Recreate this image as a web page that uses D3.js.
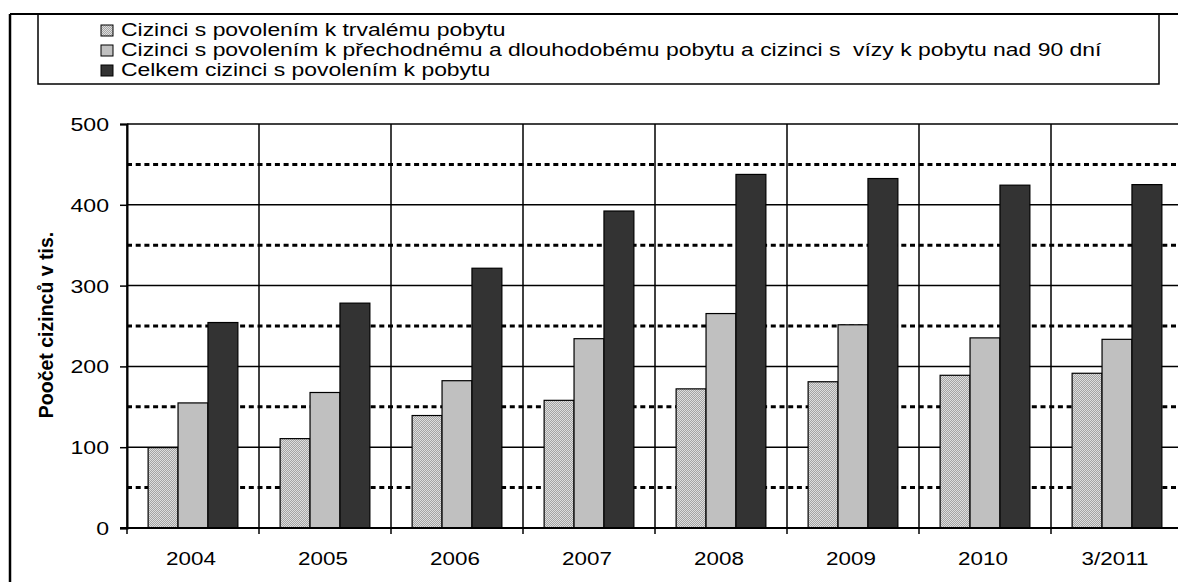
<!DOCTYPE html>
<html>
<head>
<meta charset="utf-8">
<script src="https://cdn.jsdelivr.net/npm/d3@7"></script>
<style>
  body { margin: 0; background: #fff; }
  text { font-family: Arial, "Liberation Sans", sans-serif; fill: #000; }
</style>
</head>
<body>
<svg id="chart"></svg>
<script>
// data
const categories = ['2004', '2005', '2006', '2007', '2008', '2009', '2010', '3/2011'];
const permanent = [99.5, 110.6, 139.2, 158.0, 172.2, 181.0, 189.0, 191.5];
const temporary = [154.8, 167.7, 182.3, 234.3, 265.4, 251.5, 235.3, 233.5];
const total = [254.3, 278.3, 321.5, 392.3, 437.6, 432.5, 424.3, 425.0];
const seriesNames = [
  'Cizinci s povolením k trvalému pobytu',
  'Cizinci s povolením k přechodnému a dlouhodobému pobytu a cizinci s  vízy k pobytu nad 90 dní',
  'Celkem cizinci s povolením k pobytu'
];
const yTicks = [0, 100, 200, 300, 400, 500];
const yDotted = [50, 150, 250, 350, 450];
const yTitle = 'Poočet cizinců v tis.';

let width = 1178;
let height = 582;
// the source picture is a bit wider than tall glyphs would be, so text is stretched in x
let textStretch = 1.25;
let legendStretch = 1.31;

let svg = d3.select('#chart').attr('width', width).attr('height', height);

// fill pattern for first series (fine checker)
let defs = svg.append('defs');
let pat = defs.append('pattern')
  .attr('id', 'hatch')
  .attr('patternUnits', 'userSpaceOnUse')
  .attr('width', 2)
  .attr('height', 2);
pat.append('rect').attr('width', 2).attr('height', 2).attr('fill', '#dedede');
pat.append('rect').attr('x', 0).attr('y', 0).attr('width', 1).attr('height', 1).attr('fill', '#a4a4a4');
pat.append('rect').attr('x', 1).attr('y', 1).attr('width', 1).attr('height', 1).attr('fill', '#a4a4a4');

let fills = ['url(#hatch)', '#c0c0c0', '#333333'];

// outer frame
svg.append('line').attr('x1', 10).attr('x2', 10).attr('y1', 14).attr('y2', height)
  .attr('stroke', '#000').attr('stroke-width', 2.5);
svg.append('line').attr('x1', 10).attr('x2', width).attr('y1', 14).attr('y2', 14)
  .attr('stroke', '#000').attr('stroke-width', 2);

// legend
let legend = svg.append('g');
legend.append('rect')
  .attr('x', 38).attr('y', 14).attr('width', 1121).attr('height', 70)
  .attr('fill', 'none').attr('stroke', '#000').attr('stroke-width', 1.5);

let legendRows = legend.selectAll('g.row')
  .data(seriesNames)
  .enter().append('g')
  .attr('class', 'row')
  .attr('transform', (d, i) => `translate(101, ${36 + i * 20})`);

legendRows.append('rect')
  .attr('x', 0).attr('y', -11).attr('width', 12).attr('height', 11)
  .attr('fill', (d, i) => fills[i])
  .attr('stroke', '#000').attr('stroke-width', 1);

legendRows.append('text')
  .attr('transform', `translate(20,0) scale(${legendStretch},1)`)
  .style('white-space', 'pre')
  .attr('font-size', '17.5px')
  .text(d => d);

// plot
let plotLeft = 127, plotTop = 124, plotBottom = 528;
let catWidth = 132;

let x = d3.scaleBand()
  .domain(categories)
  .range([plotLeft, plotLeft + catWidth * categories.length])
  .paddingInner(0).paddingOuter(0);

let xSub = d3.scaleBand()
  .domain([0, 1, 2])
  .range([x.bandwidth() * 0.16, x.bandwidth() * 0.84])
  .padding(0);

let y = d3.scaleLinear()
  .domain([0, 500])
  .range([plotBottom, plotTop]);

let grid = svg.append('g');

// dotted minor gridlines
grid.selectAll('line.dot')
  .data(yDotted)
  .enter().append('line')
  .attr('x1', plotLeft).attr('x2', width)
  .attr('y1', d => y(d)).attr('y2', d => y(d))
  .attr('stroke', '#000').attr('stroke-width', 3)
  .attr('stroke-dasharray', '5,3.7');

// solid major gridlines
grid.selectAll('line.major')
  .data(yTicks.filter(d => d > 0))
  .enter().append('line')
  .attr('x1', plotLeft).attr('x2', width)
  .attr('y1', d => y(d)).attr('y2', d => y(d))
  .attr('stroke', '#000').attr('stroke-width', 1.5);

// vertical category dividers, with ticks below the axis
grid.selectAll('line.vert')
  .data(categories)
  .enter().append('line')
  .attr('x1', d => x(d)).attr('x2', d => x(d))
  .attr('y1', plotTop).attr('y2', plotBottom + 6)
  .attr('stroke', '#000').attr('stroke-width', 1.5);

// bars
let groups = svg.append('g').selectAll('g.grp')
  .data(categories)
  .enter().append('g')
  .attr('transform', d => `translate(${x(d)},0)`);

groups.selectAll('rect')
  .data((d, i) => [permanent[i], temporary[i], total[i]])
  .enter().append('rect')
  .attr('x', (d, j) => xSub(j))
  .attr('width', xSub.bandwidth())
  .attr('y', d => y(d))
  .attr('height', d => y(0) - y(d))
  .attr('fill', (d, j) => fills[j])
  .attr('stroke', '#000').attr('stroke-width', 1.2);

// x axis line
svg.append('line')
  .attr('x1', plotLeft - 7).attr('x2', width)
  .attr('y1', y(0)).attr('y2', y(0))
  .attr('stroke', '#000').attr('stroke-width', 2);

// y axis
let yAxis = d3.axisLeft(y)
  .tickValues(yTicks)
  .tickSize(7)
  .tickFormat('');

let yg = svg.append('g')
  .attr('transform', `translate(${plotLeft},0)`)
  .call(yAxis);
yg.select('.domain').attr('stroke', '#000').attr('stroke-width', 2);
yg.selectAll('.tick line').attr('stroke', '#000').attr('stroke-width', 1.5);

svg.append('g').selectAll('text')
  .data(yTicks)
  .enter().append('text')
  .attr('transform', d => `translate(109, ${y(d) + 7}) scale(${textStretch},1)`)
  .attr('text-anchor', 'end')
  .attr('font-size', '18.5px')
  .text(d3.format('d'));

// category labels
svg.append('g').selectAll('text')
  .data(categories)
  .enter().append('text')
  .attr('transform', d => `translate(${x(d) + x.bandwidth() / 2 - 2}, 565) scale(${textStretch * 0.97},1)`)
  .attr('text-anchor', 'middle')
  .attr('font-size', '18.5px')
  .text(d => d);

// y title
svg.append('text')
  .attr('transform', 'translate(53, 325) rotate(-90)')
  .attr('text-anchor', 'middle')
  .attr('font-size', '19.5px')
  .attr('font-weight', 'bold')
  .text(yTitle);
</script>
</body>
</html>
